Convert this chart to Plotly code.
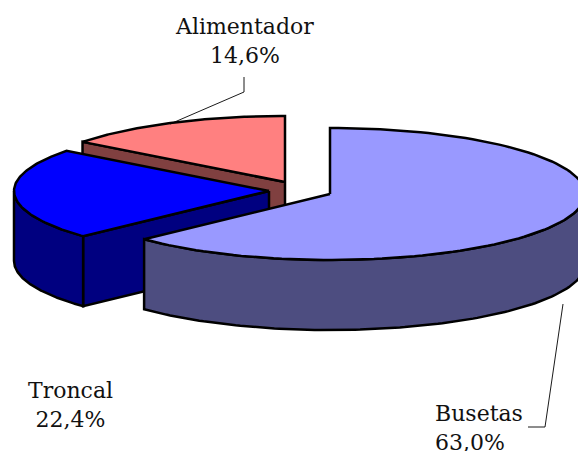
import math
import plotly.graph_objects as go

categories = ["Busetas", "Troncal", "Alimentador"]
shares = [63.0, 22.4, 14.6]
top_colors = ["#9999ff", "#0000ff", "#ff8080"]
side_colors = ["#4d4d80", "#000080", "#804040"]
centers = [(330, 194), (269, 191), (285, 182)]
label_pos = [(479, 428), (70, 405), (244, 41)]
label_align = ["left", "center", "center"]
leaders = [[(563, 304), (545, 427), (528, 427)], [], [(170, 124), (244, 92), (244, 77)]]

RX, RY, DEPTH = 255, 66, 70
W, H = 578, 451
OUT = "#000000"


def rim(c, a0, a1, dy=0, n=120):
    pts = []
    for i in range(n + 1):
        a = math.radians(a0 + (a1 - a0) * i / n)
        pts.append((c[0] + RX * math.sin(a), c[1] - RY * math.cos(a) + dy))
    return pts


def poly(fig, pts, fill):
    xs = [p[0] for p in pts] + [pts[0][0]]
    ys = [p[1] for p in pts] + [pts[0][1]]
    fig.add_trace(go.Scatter(x=xs, y=ys, mode="lines", fill="toself", fillcolor=fill,
                             line=dict(color=OUT, width=2.5), hoverinfo="skip", showlegend=False))


# slice angle spans, clockwise from twelve o'clock
spans = []
start = 0.0
for s in shares:
    spans.append((start, start + s * 3.6))
    start += s * 3.6

fig = go.Figure()
for idx in [2, 1, 0]:
    c = centers[idx]
    a0, a1 = spans[idx]
    if idx in (1, 2):
        # radial cut face at the slice's leading edge, facing the viewer
        e = rim(c, a0, a0, n=1)[0]
        poly(fig, [c, e, (e[0], e[1] + DEPTH), (c[0], c[1] + DEPTH)], side_colors[idx])
    # outer wall: only the portion of the rim facing the viewer
    lo, hi = max(a0, 90), min(a1, 270)
    if hi > lo:
        poly(fig, rim(c, lo, hi) + rim(c, hi, lo, dy=DEPTH), side_colors[idx])
    poly(fig, [c] + rim(c, a0, a1), top_colors[idx])

for line in leaders:
    if line:
        fig.add_trace(go.Scatter(x=[p[0] for p in line], y=[p[1] for p in line], mode="lines",
                                 line=dict(color="#000000", width=0.9), hoverinfo="skip", showlegend=False))

for name, v, pos, al in zip(categories, shares, label_pos, label_align):
    pct = f"{v:.1f}".replace(".", ",") + "%"
    fig.add_annotation(x=pos[0], y=pos[1], text=f"{name}<br>{pct}", showarrow=False,
                       font=dict(family="DejaVu Serif", size=22, color="#111111"), align=al)

fig.update_layout(width=W, height=H, margin=dict(l=0, r=0, t=0, b=0), paper_bgcolor="white",
                  plot_bgcolor="white", showlegend=False,
                  xaxis=dict(range=[0, W], visible=False, fixedrange=True),
                  yaxis=dict(range=[H, 0], visible=False, fixedrange=True))
fig.write_html("out.html", config={"displayModeBar": False},
               post_script="document.body.style.margin='0';document.body.style.overflow='hidden';")
